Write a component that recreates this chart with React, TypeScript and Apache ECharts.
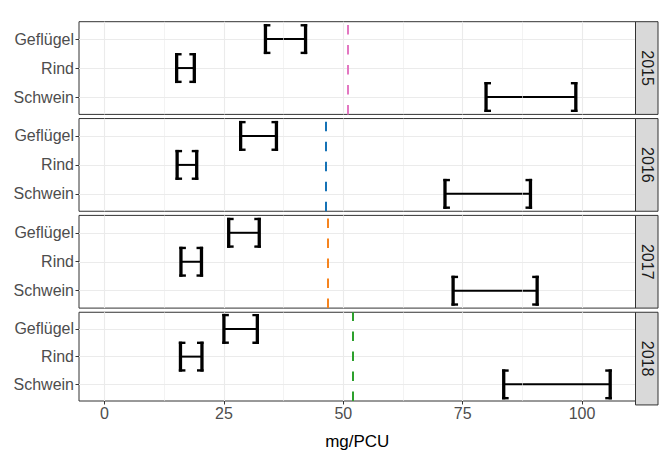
import React, { useEffect, useRef } from "react";
import * as echarts from "echarts";

const years = ["2015", "2016", "2017", "2018"];
const categories = ["Geflügel", "Rind", "Schwein"];
const lowerValues = [
  [33.7, 15.1, 79.9],
  [28.5, 15.2, 71.3],
  [26.0, 16.0, 73.0],
  [25.0, 15.9, 83.6],
];
const upperValues = [
  [42.1, 18.8, 98.7],
  [36.0, 19.3, 89.2],
  [32.4, 20.3, 90.6],
  [32.0, 20.4, 105.9],
];
const refValues = [51.0, 46.3, 46.7, 51.9];
const refColors = ["#E377C2", "#1572B6", "#F5841F", "#2CA02C"];
const xTicks = [0, 25, 50, 75, 100];
const xMinorTicks = [12.5, 37.5, 62.5, 87.5];
const yTicks = [1, 2, 3];

const FONT = '"Liberation Sans", Arial, Helvetica, sans-serif';

export default function App() {
  const ref = useRef<HTMLDivElement>(null);
  useEffect(() => {
    const chart = echarts.init(ref.current!, null, { renderer: "svg" });
    const gridTop0 = 21.7;
    const gridStep = 96.85;
    const gridH = 92.7;
    const gridLeft = 79;
    const gridRight = 25.5;

    const grids: any[] = [];
    const xAxes: any[] = [];
    const yAxes: any[] = [];
    const series: any[] = [];
    const graphics: any[] = [];

    years.forEach((yr, i) => {
      const top = gridTop0 + i * gridStep;
      const isLast = i === years.length - 1;
      grids.push({
        left: gridLeft,
        right: gridRight,
        top,
        height: gridH,
        show: true,
        borderColor: "#333333",
        borderWidth: 1,
        backgroundColor: "#FFFFFF",
        containLabel: false,
      });
      xAxes.push({
        type: "value",
        gridIndex: i,
        position: "bottom",
        min: -5.35,
        max: 111.2,
        axisLine: { show: false, onZero: false },
        axisTick: {
          show: isLast,
          customValues: xTicks,
          length: 3.5,
          lineStyle: { color: "#333333", width: 1 },
        },
        axisLabel: {
          show: isLast,
          customValues: xTicks,
          margin: 4.5,
          color: "#4D4D4D",
          fontSize: 16,
          fontFamily: FONT,
        },
        splitLine: {
          show: true,
          lineStyle: { color: "#EBEBEB", width: 1.1 },
        },
        name: isLast ? "mg/PCU" : "",
        nameLocation: "middle",
        nameGap: 32,
        nameTextStyle: { color: "#000000", fontSize: 17, fontFamily: FONT },
      });
      yAxes.push({
        type: "value",
        gridIndex: i,
        position: "left",
        inverse: true,
        min: 0.4,
        max: 3.6,
        axisLine: { show: false, onZero: false },
        axisTick: {
          show: true,
          customValues: yTicks,
          length: 3.5,
          lineStyle: { color: "#333333", width: 1 },
        },
        axisLabel: {
          show: true,
          customValues: yTicks,
          margin: 5,
          color: "#4D4D4D",
          fontSize: 16,
          fontFamily: FONT,
          formatter: (v: number) => categories[Math.round(v) - 1] ?? "",
        },
        splitLine: {
          show: true,
          lineStyle: { color: "#EBEBEB", width: 1.1 },
        },
      });

      // minor vertical grid lines
      series.push({
        type: "line",
        xAxisIndex: i,
        yAxisIndex: i,
        data: [],
        silent: true,
        z: 1,
        markLine: {
          silent: true,
          symbol: ["none", "none"],
          label: { show: false },
          lineStyle: { color: "#EBEBEB", width: 0.6, type: "solid" },
          data: xMinorTicks.map((v) => ({ xAxis: v })),
        },
      });

      // reference dashed line
      series.push({
        type: "line",
        xAxisIndex: i,
        yAxisIndex: i,
        data: [],
        silent: true,
        z: 4,
        markLine: {
          silent: true,
          symbol: ["none", "none"],
          label: { show: false },
          lineStyle: { color: refColors[i], width: 2, type: [9.5, 10.5] },
          data: [[{ coord: [refValues[i], 3.6] }, { coord: [refValues[i], 0.4] }]],
        },
      });

      const data = categories.map((c, k) => [lowerValues[i][k], upperValues[i][k], k + 1]);
      series.push({
        type: "custom",
        xAxisIndex: i,
        yAxisIndex: i,
        z: 3,
        encode: { x: [0, 1], y: 2 },
        data,
        renderItem: (params: any, api: any) => {
          const lo = api.value(0);
          const hi = api.value(1);
          const cat = api.value(2);
          const p1 = api.coord([lo, cat]);
          const p2 = api.coord([hi, cat]);
          const h = 15;
          const sw = 3.3;
          const st = 2.4;
          const sl = 6.6;
          const black = { fill: "#000000" };
          return {
            type: "group",
            children: [
              {
                type: "line",
                shape: { x1: p1[0], y1: p1[1], x2: p2[0], y2: p2[1] },
                style: { stroke: "#000000", lineWidth: 2 },
              },
              { type: "rect", shape: { x: p1[0] - sw / 2, y: p1[1] - h, width: sw, height: 2 * h }, style: black },
              { type: "rect", shape: { x: p1[0] - sw / 2, y: p1[1] - h, width: sl, height: st }, style: black },
              { type: "rect", shape: { x: p1[0] - sw / 2, y: p1[1] + h - st, width: sl, height: st }, style: black },
              { type: "rect", shape: { x: p2[0] - sw / 2, y: p2[1] - h, width: sw, height: 2 * h }, style: black },
              { type: "rect", shape: { x: p2[0] + sw / 2 - sl, y: p2[1] - h, width: sl, height: st }, style: black },
              { type: "rect", shape: { x: p2[0] + sw / 2 - sl, y: p2[1] + h - st, width: sl, height: st }, style: black },
            ],
          };
        },
      });

      graphics.push({
        type: "rect",
        shape: { x: 635.5, y: top, width: 22.5, height: gridH },
        style: { fill: "#D9D9D9", stroke: "#333333", lineWidth: 1 },
        z: 10,
      });
      graphics.push({
        type: "text",
        x: 647,
        y: top + gridH / 2,
        rotation: -Math.PI / 2,
        style: {
          text: yr,
          fill: "#1A1A1A",
          fontSize: 16,
          fontFamily: FONT,
          align: "center",
          verticalAlign: "middle",
        },
        z: 11,
      });
    });

    chart.setOption({
      animation: false,
      backgroundColor: "#FFFFFF",
      textStyle: { fontFamily: FONT },
      grid: grids,
      xAxis: xAxes,
      yAxis: yAxes,
      series,
      graphic: graphics,
    });
    return () => chart.dispose();
  }, []);
  return (
    <div
      ref={ref}
      style={{ position: "fixed", left: 0, top: 0, width: 661, height: 451 }}
    />
  );
}
